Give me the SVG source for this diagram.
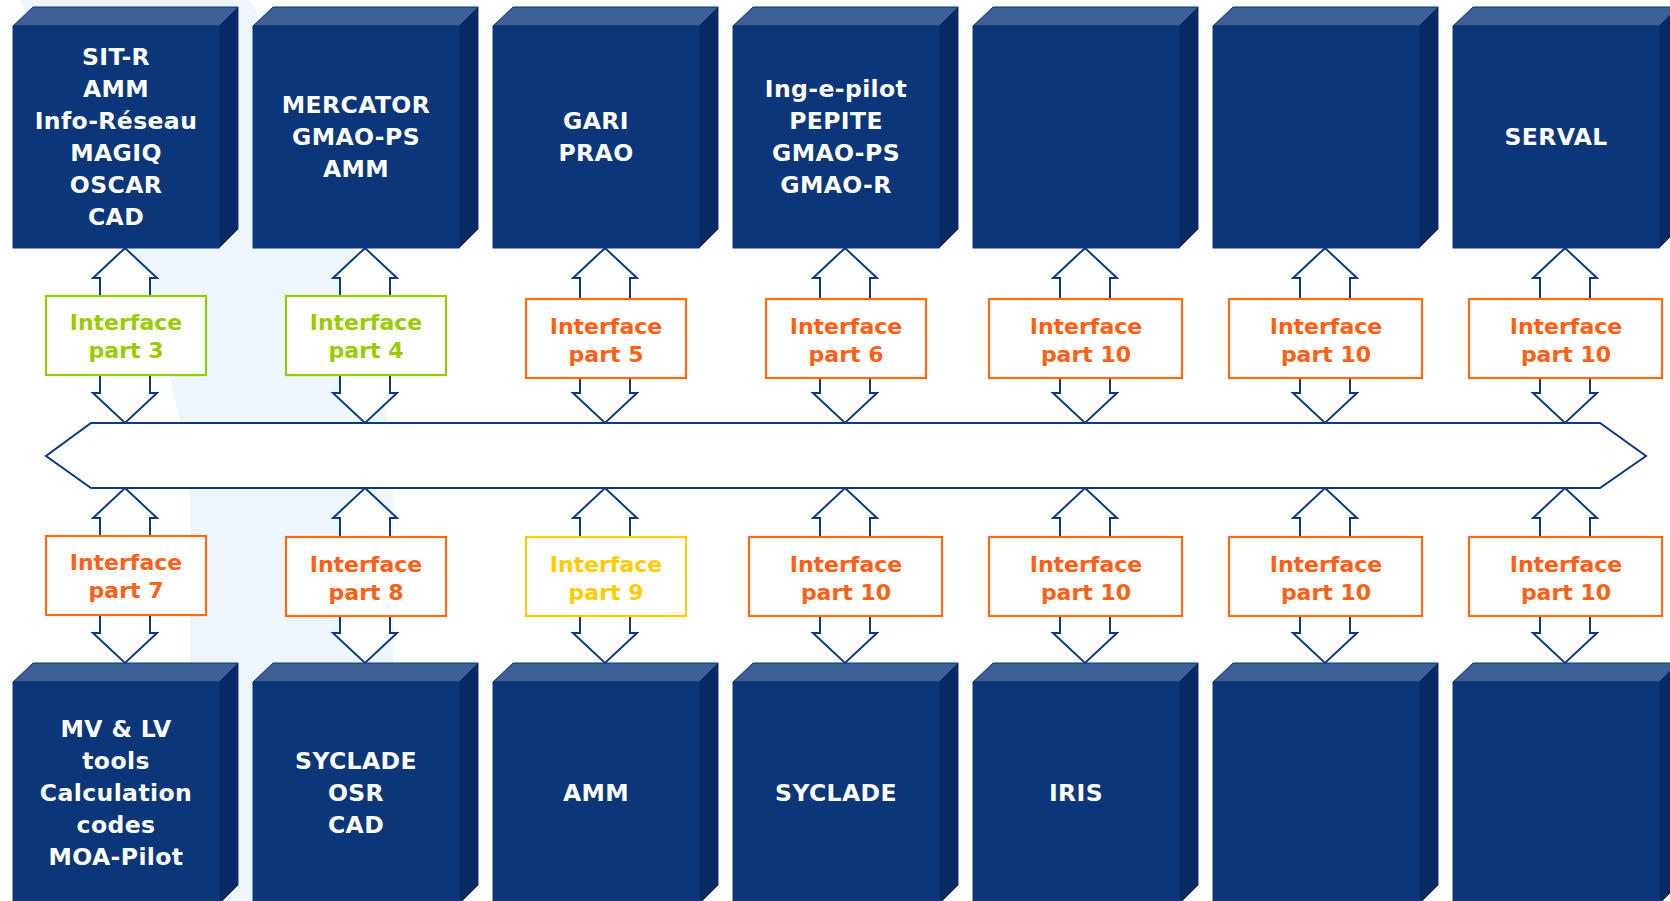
<svg xmlns="http://www.w3.org/2000/svg" width="1670" height="901" viewBox="0 0 1670 901">
<style>
.front{fill:#0b3679}
.top{fill:#3c5f95}
.side{fill:#082a64}
.edge{stroke:#0e3675;stroke-width:1}
.bt{font-family:"DejaVu Sans",Verdana,sans-serif;font-weight:bold;font-size:23.5px;letter-spacing:0.4px;fill:#ffffff;text-anchor:middle}
.it{font-family:"DejaVu Sans",Verdana,sans-serif;font-weight:bold;font-size:22px;text-anchor:middle}
.ib{fill:#ffffff;stroke-width:2.2}
.green .ib{stroke:#99cc00}.green text{fill:#99cc00}
.orange .ib{stroke:#ff6a13}.orange text{fill:#ff5f17}
.yellow .ib{stroke:#ffcc00}.yellow text{fill:#ffcc00}
.arr{fill:#ffffff;stroke:#0b3a80;stroke-width:2;stroke-linejoin:miter}
</style>
<defs>
<g id="upA"><polygon class="arr" points="0,0 32,30 25,30 25,52 -25,52 -25,30 -32,30"/></g>
<g id="dnA"><polygon class="arr" points="-25,-20 25,-20 25,0 32,0 0,30 -32,0 -25,0"/></g>
</defs>
<rect width="1670" height="901" fill="#ffffff"/>
<path d="M20,0 C100,150 170,330 190,480 L190,901 L393,901 L393,480 C380,300 330,150 250,0 Z" fill="#eef6fd"/>

<g id="connectors">
<use href="#upA" x="125" y="248"/><use href="#dnA" x="125" y="393"/>
<use href="#upA" x="365" y="248"/><use href="#dnA" x="365" y="393"/>
<use href="#upA" x="605" y="248"/><use href="#dnA" x="605" y="393"/>
<use href="#upA" x="845" y="248"/><use href="#dnA" x="845" y="393"/>
<use href="#upA" x="1085" y="248"/><use href="#dnA" x="1085" y="393"/>
<use href="#upA" x="1325" y="248"/><use href="#dnA" x="1325" y="393"/>
<use href="#upA" x="1565" y="248"/><use href="#dnA" x="1565" y="393"/>
<use href="#upA" x="125" y="488"/><use href="#dnA" x="125" y="633"/>
<use href="#upA" x="365" y="488"/><use href="#dnA" x="365" y="633"/>
<use href="#upA" x="605" y="488"/><use href="#dnA" x="605" y="633"/>
<use href="#upA" x="845" y="488"/><use href="#dnA" x="845" y="633"/>
<use href="#upA" x="1085" y="488"/><use href="#dnA" x="1085" y="633"/>
<use href="#upA" x="1325" y="488"/><use href="#dnA" x="1325" y="633"/>
<use href="#upA" x="1565" y="488"/><use href="#dnA" x="1565" y="633"/>
</g>

<g id="bus">
<polygon points="91,423 1600,423 1646,456 1600,488 91,488 46,456" fill="#ffffff" stroke="#0b3a80" stroke-width="2"/>
</g>

<g id="top1" class="edge">
<polygon class="top" points="13,26 33,7 238,7 219,26"/><polygon class="side" points="219,26 238,7 238,229 219,248"/><rect class="front" x="13" y="26" width="206" height="222"/>
<text class="bt" stroke="none"><tspan x="116" y="65">SIT-R</tspan><tspan x="116" y="97">AMM</tspan><tspan x="116" y="129">Info-Réseau</tspan><tspan x="116" y="161">MAGIQ</tspan><tspan x="116" y="193">OSCAR</tspan><tspan x="116" y="225">CAD</tspan></text>
</g>
<g id="top2" class="edge">
<polygon class="top" points="253,26 273,7 478,7 459,26"/><polygon class="side" points="459,26 478,7 478,229 459,248"/><rect class="front" x="253" y="26" width="206" height="222"/>
<text class="bt" stroke="none"><tspan x="356" y="113">MERCATOR</tspan><tspan x="356" y="145">GMAO-PS</tspan><tspan x="356" y="177">AMM</tspan></text>
</g>
<g id="top3" class="edge">
<polygon class="top" points="493,26 513,7 718,7 699,26"/><polygon class="side" points="699,26 718,7 718,229 699,248"/><rect class="front" x="493" y="26" width="206" height="222"/>
<text class="bt" stroke="none"><tspan x="596" y="129">GARI</tspan><tspan x="596" y="161">PRAO</tspan></text>
</g>
<g id="top4" class="edge">
<polygon class="top" points="733,26 753,7 958,7 939,26"/><polygon class="side" points="939,26 958,7 958,229 939,248"/><rect class="front" x="733" y="26" width="206" height="222"/>
<text class="bt" stroke="none"><tspan x="836" y="97">Ing-e-pilot</tspan><tspan x="836" y="129">PEPITE</tspan><tspan x="836" y="161">GMAO-PS</tspan><tspan x="836" y="193">GMAO-R</tspan></text>
</g>
<g id="top5" class="edge">
<polygon class="top" points="973,26 993,7 1198,7 1179,26"/><polygon class="side" points="1179,26 1198,7 1198,229 1179,248"/><rect class="front" x="973" y="26" width="206" height="222"/>
</g>
<g id="top6" class="edge">
<polygon class="top" points="1213,26 1233,7 1438,7 1419,26"/><polygon class="side" points="1419,26 1438,7 1438,229 1419,248"/><rect class="front" x="1213" y="26" width="206" height="222"/>
</g>
<g id="top7" class="edge">
<polygon class="top" points="1453,26 1473,7 1678,7 1659,26"/><polygon class="side" points="1659,26 1678,7 1678,229 1659,248"/><rect class="front" x="1453" y="26" width="206" height="222"/>
<text class="bt" stroke="none"><tspan x="1556" y="145">SERVAL</tspan></text>
</g>

<g id="bot1" class="edge">
<polygon class="top" points="13,682 33,663 238,663 219,682"/><polygon class="side" points="219,682 238,663 238,885 219,904"/><rect class="front" x="13" y="682" width="206" height="222"/>
<text class="bt" stroke="none"><tspan x="116" y="737">MV &amp; LV</tspan><tspan x="116" y="769">tools</tspan><tspan x="116" y="801">Calculation</tspan><tspan x="116" y="833">codes</tspan><tspan x="116" y="865">MOA-Pilot</tspan></text>
</g>
<g id="bot2" class="edge">
<polygon class="top" points="253,682 273,663 478,663 459,682"/><polygon class="side" points="459,682 478,663 478,885 459,904"/><rect class="front" x="253" y="682" width="206" height="222"/>
<text class="bt" stroke="none"><tspan x="356" y="769">SYCLADE</tspan><tspan x="356" y="801">OSR</tspan><tspan x="356" y="833">CAD</tspan></text>
</g>
<g id="bot3" class="edge">
<polygon class="top" points="493,682 513,663 718,663 699,682"/><polygon class="side" points="699,682 718,663 718,885 699,904"/><rect class="front" x="493" y="682" width="206" height="222"/>
<text class="bt" stroke="none"><tspan x="596" y="801">AMM</tspan></text>
</g>
<g id="bot4" class="edge">
<polygon class="top" points="733,682 753,663 958,663 939,682"/><polygon class="side" points="939,682 958,663 958,885 939,904"/><rect class="front" x="733" y="682" width="206" height="222"/>
<text class="bt" stroke="none"><tspan x="836" y="801">SYCLADE</tspan></text>
</g>
<g id="bot5" class="edge">
<polygon class="top" points="973,682 993,663 1198,663 1179,682"/><polygon class="side" points="1179,682 1198,663 1198,885 1179,904"/><rect class="front" x="973" y="682" width="206" height="222"/>
<text class="bt" stroke="none"><tspan x="1076" y="801">IRIS</tspan></text>
</g>
<g id="bot6" class="edge">
<polygon class="top" points="1213,682 1233,663 1438,663 1419,682"/><polygon class="side" points="1419,682 1438,663 1438,885 1419,904"/><rect class="front" x="1213" y="682" width="206" height="222"/>
</g>
<g id="bot7" class="edge">
<polygon class="top" points="1453,682 1473,663 1678,663 1659,682"/><polygon class="side" points="1659,682 1678,663 1678,885 1659,904"/><rect class="front" x="1453" y="682" width="206" height="222"/>
</g>

<g id="if3" class="green"><rect class="ib" x="46" y="296" width="160" height="79"/><text class="it"><tspan x="126" y="330">Interface</tspan><tspan x="126" y="358">part 3</tspan></text></g>
<g id="if4" class="green"><rect class="ib" x="286" y="296" width="160" height="79"/><text class="it"><tspan x="366" y="330">Interface</tspan><tspan x="366" y="358">part 4</tspan></text></g>
<g id="if5" class="orange"><rect class="ib" x="526" y="299" width="160" height="79"/><text class="it"><tspan x="606" y="334">Interface</tspan><tspan x="606" y="362">part 5</tspan></text></g>
<g id="if6" class="orange"><rect class="ib" x="766" y="299" width="160" height="79"/><text class="it"><tspan x="846" y="334">Interface</tspan><tspan x="846" y="362">part 6</tspan></text></g>
<g id="if10a" class="orange"><rect class="ib" x="989" y="299" width="193" height="79"/><text class="it"><tspan x="1086" y="334">Interface</tspan><tspan x="1086" y="362">part 10</tspan></text></g>
<g id="if10b" class="orange"><rect class="ib" x="1229" y="299" width="193" height="79"/><text class="it"><tspan x="1326" y="334">Interface</tspan><tspan x="1326" y="362">part 10</tspan></text></g>
<g id="if10c" class="orange"><rect class="ib" x="1469" y="299" width="193" height="79"/><text class="it"><tspan x="1566" y="334">Interface</tspan><tspan x="1566" y="362">part 10</tspan></text></g>

<g id="if7" class="orange"><rect class="ib" x="46" y="536" width="160" height="79"/><text class="it"><tspan x="126" y="570">Interface</tspan><tspan x="126" y="598">part 7</tspan></text></g>
<g id="if8" class="orange"><rect class="ib" x="286" y="537" width="160" height="79"/><text class="it"><tspan x="366" y="572">Interface</tspan><tspan x="366" y="600">part 8</tspan></text></g>
<g id="if9" class="yellow"><rect class="ib" x="526" y="537" width="160" height="79"/><text class="it"><tspan x="606" y="572">Interface</tspan><tspan x="606" y="600">part 9</tspan></text></g>
<g id="if10d" class="orange"><rect class="ib" x="749" y="537" width="193" height="79"/><text class="it"><tspan x="846" y="572">Interface</tspan><tspan x="846" y="600">part 10</tspan></text></g>
<g id="if10e" class="orange"><rect class="ib" x="989" y="537" width="193" height="79"/><text class="it"><tspan x="1086" y="572">Interface</tspan><tspan x="1086" y="600">part 10</tspan></text></g>
<g id="if10f" class="orange"><rect class="ib" x="1229" y="537" width="193" height="79"/><text class="it"><tspan x="1326" y="572">Interface</tspan><tspan x="1326" y="600">part 10</tspan></text></g>
<g id="if10g" class="orange"><rect class="ib" x="1469" y="537" width="193" height="79"/><text class="it"><tspan x="1566" y="572">Interface</tspan><tspan x="1566" y="600">part 10</tspan></text></g>
</svg>
